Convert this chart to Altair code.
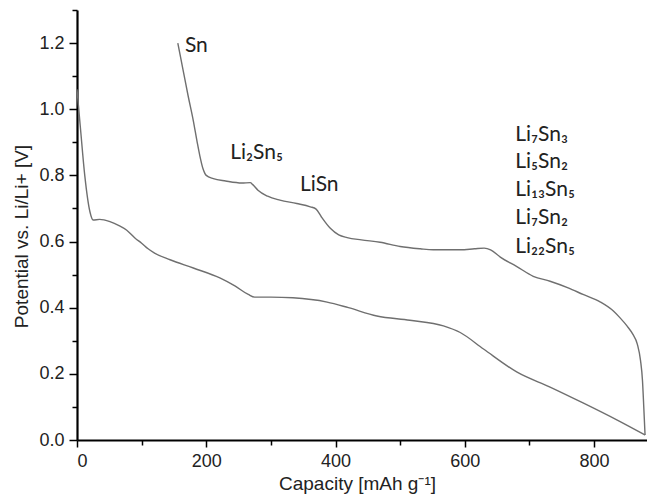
import altair as alt
import pandas as pd

# Discharge (lithiation) curve
discharge_cap = [0, 5, 12, 20, 25, 35, 51, 65, 77, 90, 100, 110, 120, 144, 180, 221, 245,
                 265, 275, 300, 334, 387, 420, 464, 515, 567, 593, 629, 681, 732, 783, 836, 879]
discharge_v = [1.06, 0.95, 0.80, 0.69, 0.665, 0.667, 0.66, 0.648, 0.634, 0.61, 0.595, 0.578,
               0.565, 0.545, 0.52, 0.49, 0.465, 0.44, 0.432, 0.432, 0.43, 0.417, 0.40, 0.375,
               0.362, 0.345, 0.325, 0.275, 0.205, 0.16, 0.112, 0.06, 0.015]

# Charge (delithiation) curve
charge_cap = [879, 877, 875, 872, 867, 860, 851, 840, 830, 810, 783, 760, 732, 706, 680, 655,
              640, 630, 615, 593, 551, 531, 500, 469, 440, 418, 405, 392, 378, 370, 361, 340,
              314, 295, 280, 272, 268, 255, 230, 211, 200, 195, 190, 186, 180, 172, 164, 156]
charge_v = [0.015, 0.10, 0.18, 0.24, 0.29, 0.32, 0.345, 0.37, 0.39, 0.417, 0.44, 0.46, 0.48,
            0.495, 0.525, 0.553, 0.575, 0.58, 0.578, 0.575, 0.575, 0.578, 0.585, 0.598, 0.605,
            0.612, 0.62, 0.64, 0.675, 0.698, 0.705, 0.715, 0.725, 0.737, 0.755, 0.772, 0.778,
            0.777, 0.783, 0.79, 0.80, 0.82, 0.86, 0.90, 0.965, 1.04, 1.12, 1.20]

label_text = ["Sn", "Li₂Sn₅", "LiSn", "Li₇Sn₃", "Li₅Sn₂", "Li₁₃Sn₅", "Li₇Sn₂", "Li₂₂Sn₅"]
label_cap = [167, 237, 345, 678, 678, 678, 678, 678]
label_v = [1.19, 0.867, 0.77, 0.921, 0.840, 0.755, 0.671, 0.583]

x_major = [0, 200, 400, 600, 800]
x_minor = [100, 300, 500, 700]
y_major = [0.0, 0.2, 0.4, 0.6, 0.8, 1.0, 1.2]
y_minor = [0.1, 0.3, 0.5, 0.7, 0.9, 1.1, 1.3]

rows = []
for c, v in zip(discharge_cap, discharge_v):
    rows.append({"cap": c, "v": v, "series": "discharge"})
for c, v in zip(charge_cap, charge_v):
    rows.append({"cap": c, "v": v, "series": "charge"})
df = pd.DataFrame(rows)
labels = pd.DataFrame({"cap": label_cap, "v": label_v, "text": label_text})

xs = alt.Scale(domain=[0, 882], nice=False, zero=False)
ys = alt.Scale(domain=[0, 1.3], nice=False, zero=False)

lines = alt.Chart(df).mark_line(color="#6f6f6f", strokeWidth=1.4, interpolate="monotone").encode(
    x=alt.X("cap:Q", scale=xs,
            axis=alt.Axis(values=x_major, tickSize=7, labelPadding=5, titlePadding=4,
                          title="Capacity [mAh g⁻¹]", format="d", orient="bottom",
                          titleX=280, domainWidth=2.2, domainColor="black")),
    y=alt.Y("v:Q", scale=ys,
            axis=alt.Axis(values=y_major, tickSize=8, labelPadding=5, titlePadding=7,
                          title="Potential vs. Li/Li+ [V]", format=".1f", orient="left",
                          titleY=226, domainWidth=2.2, domainColor="black")),
    detail="series:N",
    order="cap:Q",
)

minor = alt.Chart(df).mark_point(opacity=0).encode(
    x=alt.X("cap:Q", scale=xs,
            axis=alt.Axis(values=x_minor, tickSize=5, labels=False, domain=False, title=None,
                          orient="bottom")),
    y=alt.Y("v:Q", scale=ys,
            axis=alt.Axis(values=y_minor, tickSize=5, labels=False, domain=False, title=None,
                          orient="left")),
)

text = alt.Chart(labels).mark_text(align="left", baseline="middle", font="Lato",
                                   fontSize=21, color="#222").encode(
    x=alt.X("cap:Q", scale=xs, axis=None),
    y=alt.Y("v:Q", scale=ys, axis=None),
    text="text:N",
)

chart = alt.layer(lines, minor, text).resolve_axis(
    x="independent", y="independent"
).properties(
    width=570, height=430,
    autosize=alt.AutoSizeParams(type="none"),
    padding={"left": 69, "top": 2, "right": 0, "bottom": 56},
).configure_view(stroke=None).configure_axis(
    domainColor="black", domainWidth=2.2, tickColor="black", tickWidth=1.5,
    labelFont="Arial", labelFontSize=18, labelColor="#222",
    titleFont="Arial", titleFontSize=19, titleFontWeight="normal",
    titleColor="#222", grid=False,
)

chart.save("out.html", embed_options={"renderer": "svg", "actions": False})
